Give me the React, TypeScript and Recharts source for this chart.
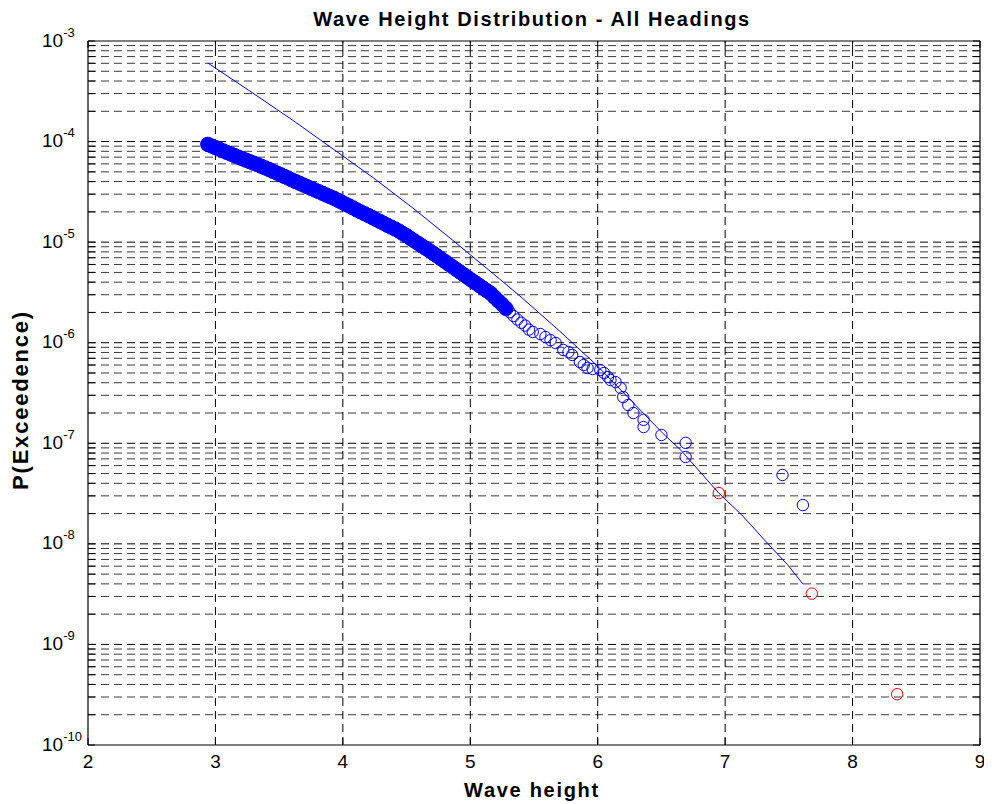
import React from "react";
import {
  ComposedChart,
  XAxis,
  YAxis,
  Scatter,
  Line,
  ReferenceLine,
} from "recharts";

// ---- Data ----
const xTicks = [2, 3, 4, 5, 6, 7, 8, 9];
const yTicks = [1e-10, 1e-9, 1e-8, 1e-7, 1e-6, 1e-5, 1e-4, 1e-3];
const minorMantissas = [2, 3, 4, 5, 6, 7, 8, 9];
const decadeExps = [-10, -9, -8, -7, -6, -5, -4];

// dense part of the empirical exceedance (blue circles, overlapping into a band)
const denseX = [
  2.94, 2.97, 3.0, 3.03, 3.06, 3.09, 3.12, 3.15, 3.18, 3.21,
  3.24, 3.27, 3.3, 3.33, 3.36, 3.39, 3.42, 3.45, 3.48, 3.51,
  3.54, 3.57, 3.6, 3.63, 3.66, 3.69, 3.72, 3.75, 3.78, 3.81,
  3.84, 3.87, 3.9, 3.93, 3.96, 3.99, 4.02, 4.05, 4.08, 4.11,
  4.14, 4.17, 4.2, 4.23, 4.26, 4.29, 4.32, 4.35, 4.38, 4.41,
  4.44, 4.47, 4.5, 4.53, 4.56, 4.59, 4.62, 4.65, 4.68, 4.71,
  4.74, 4.77, 4.8, 4.83, 4.86, 4.89, 4.92, 4.95, 4.98, 5.01,
  5.04, 5.07, 5.1, 5.13, 5.16, 5.19, 5.22, 5.25, 5.28,
];
const denseP = [
  9.38e-5, 9.04e-5, 8.71e-5, 8.39e-5, 8.09e-5, 7.8e-5, 7.53e-5, 7.26e-5, 7.01e-5, 6.76e-5,
  6.53e-5, 6.31e-5, 6.1e-5, 5.89e-5, 5.68e-5, 5.48e-5, 5.28e-5, 5.07e-5, 4.88e-5, 4.69e-5,
  4.51e-5, 4.34e-5, 4.16e-5, 4.0e-5, 3.85e-5, 3.7e-5, 3.56e-5, 3.43e-5, 3.3e-5, 3.18e-5,
  3.06e-5, 2.94e-5, 2.83e-5, 2.73e-5, 2.61e-5, 2.5e-5, 2.39e-5, 2.29e-5, 2.19e-5, 2.09e-5,
  2.0e-5, 1.92e-5, 1.84e-5, 1.76e-5, 1.68e-5, 1.61e-5, 1.54e-5, 1.47e-5, 1.41e-5, 1.35e-5,
  1.29e-5, 1.22e-5, 1.16e-5, 1.09e-5, 1.03e-5, 9.73e-6, 9.18e-6, 8.69e-6, 8.2e-6, 7.74e-6,
  7.28e-6, 6.84e-6, 6.44e-6, 6.05e-6, 5.69e-6, 5.35e-6, 5.04e-6, 4.73e-6, 4.45e-6, 4.19e-6,
  3.94e-6, 3.71e-6, 3.49e-6, 3.29e-6, 3.1e-6, 2.84e-6, 2.61e-6, 2.4e-6, 2.19e-6,
];

// sparse tail of the empirical exceedance (blue hollow circles)
const sparseX = [
  5.31, 5.34, 5.37, 5.4, 5.43, 5.46, 5.49, 5.55, 5.59, 5.63,
  5.67, 5.73, 5.77, 5.8, 5.86, 5.89, 5.92, 5.96, 6.02, 6.05,
  6.08, 6.1, 6.14, 6.18, 6.2, 6.24, 6.28, 6.36, 6.36, 6.5,
  6.69, 6.69, 7.45, 7.61,
];
const sparseP = [
  2.01e-6, 1.84e-6, 1.7e-6, 1.58e-6, 1.48e-6, 1.35e-6, 1.28e-6, 1.22e-6, 1.14e-6, 1.06e-6,
  9.93e-7, 8.47e-7, 8.09e-7, 7.55e-7, 6.43e-7, 6.0e-7, 5.61e-7, 5.48e-7, 5.36e-7, 5.0e-7,
  4.56e-7, 4.26e-7, 4.06e-7, 3.55e-7, 2.88e-7, 2.4e-7, 2.0e-7, 1.71e-7, 1.45e-7, 1.21e-7,
  1.01e-7, 7.31e-8, 4.84e-8, 2.43e-8,
];

// red circles
const redX = [6.95, 7.68, 8.35];
const redP = [3.2e-8, 3.2e-9, 3.2e-10];

// fitted distribution (thin blue line)
const fitX = [
  2.94, 3.27, 3.61, 4.0, 4.24, 4.55, 4.86, 5.23, 5.39, 5.7,
  5.99, 6.27, 6.51, 6.65, 6.95, 7.13, 7.33, 7.49, 7.61,
];
const fitP = [
  6.04e-4, 3.18e-4, 1.62e-4, 7.19e-5, 4.35e-5, 2.18e-5, 1.05e-5, 4.3e-6, 2.91e-6, 1.31e-6,
  6.0e-7, 2.6e-7, 1.26e-7, 8.6e-8, 3.2e-8, 1.94e-8, 1.02e-8, 6.2e-9, 4.0e-9,
];

// ---- build tables ----
const denseData = denseX.map((x, i) => ({ x, p: denseP[i] }));
const sparseData = sparseX.map((x, i) => ({ x, p: sparseP[i] }));
const redData = redX.map((x, i) => ({ x, p: redP[i] }));
const fitData = fitX.map((x, i) => ({ x, p: fitP[i] }));

const minorY = decadeExps.flatMap((e) =>
  minorMantissas.map((m) => Number(`${m}e${e}`))
);
const majorY = yTicks.slice(1, -1);
const allTickY = [...minorY, ...yTicks];

const FONT = "'Liberation Sans', Arial, Helvetica, sans-serif";
const BLUE = "#0000ff";
const RED = "#ff0000";
const DASH = "8 5";
const R = 5.7;
const R_DENSE = 7.2;

const W = 984;
const H = 796;

const XTick = (props: any) => {
  const { x, y, payload } = props;
  return (
    <text
      x={x}
      y={y + 23}
      textAnchor="middle"
      fontFamily={FONT}
      fontSize={19}
      fill="#000"
    >
      {payload.value}
    </text>
  );
};

const YTick = (props: any) => {
  const { x, y, payload } = props;
  const exp = Math.round(Math.log10(payload.value));
  return (
    <text x={x - 46} y={y + 5.5} fontFamily={FONT} fontSize={19} fill="#000">
      10
      <tspan dy={-10} fontSize={13}>
        {String(exp)}
      </tspan>
    </text>
  );
};

const filledCircle = (props: any) => {
  const { cx, cy } = props;
  if (cx == null || cy == null) return <g />;
  return (
    <circle cx={cx} cy={cy} r={R_DENSE} fill={BLUE} stroke={BLUE} strokeWidth={1} />
  );
};
const hollowBlue = (props: any) => {
  const { cx, cy } = props;
  if (cx == null || cy == null) return <g />;
  return <circle cx={cx} cy={cy} r={R} fill="none" stroke={BLUE} strokeWidth={1} />;
};
const hollowRed = (props: any) => {
  const { cx, cy } = props;
  if (cx == null || cy == null) return <g />;
  return <circle cx={cx} cy={cy} r={R} fill="none" stroke={RED} strokeWidth={1} />;
};

const TICK_DX = 0.055; // inward tick length in x units (~7px)
const TICK_FY = 1.174; // inward tick length in y (log) units (~7px)

export default function App() {
  return (
    <div style={{ position: "relative", width: W, height: H }}>
      <ComposedChart
        width={W}
        height={H}
        margin={{ top: 33, right: 12, bottom: 19, left: 10 }}
      >
        <XAxis
          type="number"
          dataKey="x"
          domain={[2, 9]}
          ticks={xTicks}
          interval={0}
          allowDataOverflow
          height={40}
          tickLine={false}
          tickSize={0}
          tickMargin={0}
          axisLine={{ stroke: "#000", strokeWidth: 1.2 }}
          tick={<XTick />}
        />
        <YAxis
          type="number"
          dataKey="p"
          scale="log"
          domain={[1e-10, 1e-3]}
          ticks={yTicks}
          interval={0}
          allowDataOverflow
          width={70}
          tickLine={false}
          tickSize={0}
          tickMargin={0}
          axisLine={{ stroke: "#000", strokeWidth: 1.2 }}
          tick={<YTick />}
        />

        {minorY.map((v) => (
          <ReferenceLine
            key={`mn${v}`}
            y={v}
            stroke="#3a3a3a"
            strokeWidth={1}
            strokeDasharray={DASH}
          />
        ))}
        {majorY.map((v) => (
          <ReferenceLine
            key={`mj${v}`}
            y={v}
            stroke="#000"
            strokeWidth={1}
            strokeDasharray={DASH}
          />
        ))}
        {xTicks.slice(1, -1).map((v) => (
          <ReferenceLine
            key={`vx${v}`}
            x={v}
            stroke="#000"
            strokeWidth={1}
            strokeDasharray={DASH}
          />
        ))}

        {/* inward tick marks */}
        {allTickY.map((v) => (
          <ReferenceLine
            key={`tl${v}`}
            segment={[
              { x: 2, y: v },
              { x: 2 + TICK_DX, y: v },
            ]}
            stroke="#000"
            strokeWidth={1}
          />
        ))}
        {allTickY.map((v) => (
          <ReferenceLine
            key={`tr${v}`}
            segment={[
              { x: 9 - TICK_DX, y: v },
              { x: 9, y: v },
            ]}
            stroke="#000"
            strokeWidth={1}
          />
        ))}
        {xTicks.map((v) => (
          <ReferenceLine
            key={`tb${v}`}
            segment={[
              { x: v, y: 1e-10 },
              { x: v, y: 1e-10 * TICK_FY },
            ]}
            stroke="#000"
            strokeWidth={1}
          />
        ))}
        {xTicks.map((v) => (
          <ReferenceLine
            key={`tt${v}`}
            segment={[
              { x: v, y: 1e-3 / TICK_FY },
              { x: v, y: 1e-3 },
            ]}
            stroke="#000"
            strokeWidth={1}
          />
        ))}

        {/* frame: top and right */}
        <ReferenceLine y={1e-3} stroke="#000" strokeWidth={1.2} />
        <ReferenceLine x={9} stroke="#000" strokeWidth={1.2} />

        <Scatter
          data={denseData}
          dataKey="p"
          shape={filledCircle}
          isAnimationActive={false}
        />
        <Scatter
          data={sparseData}
          dataKey="p"
          shape={hollowBlue}
          isAnimationActive={false}
        />
        <Line
          data={fitData}
          dataKey="p"
          type="linear"
          stroke={BLUE}
          strokeWidth={1}
          dot={false}
          activeDot={false}
          isAnimationActive={false}
        />
        <Scatter
          data={redData}
          dataKey="p"
          shape={hollowRed}
          isAnimationActive={false}
        />
      </ComposedChart>

      <svg
        width={W}
        height={H}
        style={{ position: "absolute", left: 0, top: 0, pointerEvents: "none" }}
      >
        <text
          x={524}
          y={17.5}
          textAnchor="middle"
          fontFamily={FONT}
          fontWeight="bold"
          fontSize={20}
          letterSpacing={1.6}
          fill="#000"
        >
          Wave Height Distribution - All Headings
        </text>
        <text
          x={524}
          y={789}
          textAnchor="middle"
          fontFamily={FONT}
          fontWeight="bold"
          fontSize={20}
          letterSpacing={1.7}
          fill="#000"
        >
          Wave height
        </text>
        <text
          x={20}
          y={392}
          textAnchor="middle"
          transform="rotate(-90 20 392)"
          fontFamily={FONT}
          fontWeight="bold"
          fontSize={22}
          letterSpacing={1.8}
          fill="#000"
        >
          P(Exceedence)
        </text>
      </svg>
    </div>
  );
}
